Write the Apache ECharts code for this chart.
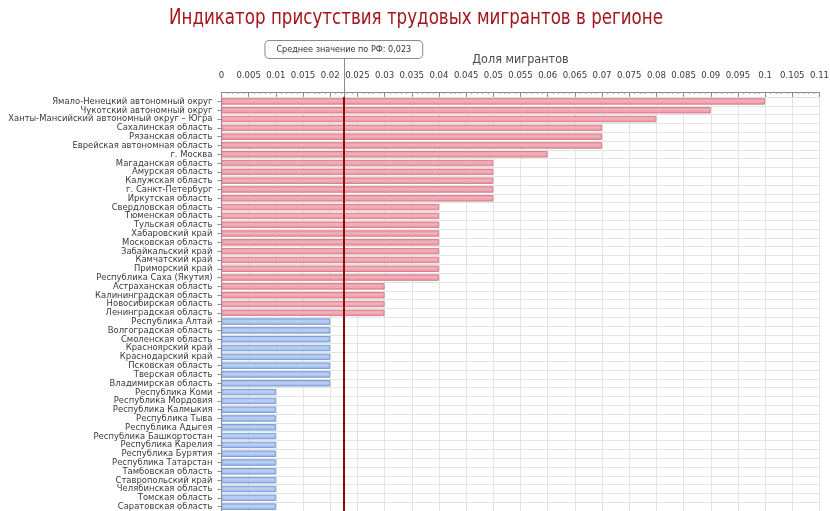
<!DOCTYPE html>
<html>
<head>
<meta charset="utf-8">
<script src="https://cdn.jsdelivr.net/npm/echarts@6/dist/echarts.min.js"></script>
<style>
html,body{margin:0;padding:0;background:#fff;overflow:hidden;}
#chart{width:830px;height:511px;}
</style>
</head>
<body>
<div id="chart"></div>
<script>
const titleText = 'Индикатор присутствия трудовых мигрантов в регионе';
const axisName = 'Доля мигрантов';
const regions = [
  'Ямало-Ненецкий автономный округ',
  'Чукотский автономный округ',
  'Ханты-Мансийский автономный округ – Югра',
  'Сахалинская область',
  'Рязанская область',
  'Еврейская автономная область',
  'г. Москва',
  'Магаданская область',
  'Амурская область',
  'Калужская область',
  'г. Санкт-Петербург',
  'Иркутская область',
  'Свердловская область',
  'Тюменская область',
  'Тульская область',
  'Хабаровский край',
  'Московская область',
  'Забайкальский край',
  'Камчатский край',
  'Приморский край',
  'Республика Саха (Якутия)',
  'Астраханская область',
  'Калининградская область',
  'Новосибирская область',
  'Ленинградская область',
  'Республика Алтай',
  'Волгоградская область',
  'Смоленская область',
  'Красноярский край',
  'Краснодарский край',
  'Псковская область',
  'Тверская область',
  'Владимирская область',
  'Республика Коми',
  'Республика Мордовия',
  'Республика Калмыкия',
  'Республика Тыва',
  'Республика Адыгея',
  'Республика Башкортостан',
  'Республика Карелия',
  'Республика Бурятия',
  'Республика Татарстан',
  'Тамбовская область',
  'Ставропольский край',
  'Челябинская область',
  'Томская область',
  'Саратовская область'
];
const shares = [
  0.10, 0.09, 0.08, 0.07, 0.07, 0.07, 0.06,
  0.05, 0.05, 0.05, 0.05, 0.05,
  0.04, 0.04, 0.04, 0.04, 0.04, 0.04, 0.04, 0.04, 0.04,
  0.03, 0.03, 0.03, 0.03,
  0.02, 0.02, 0.02, 0.02, 0.02, 0.02, 0.02, 0.02,
  0.01, 0.01, 0.01, 0.01, 0.01, 0.01, 0.01, 0.01, 0.01, 0.01, 0.01, 0.01, 0.01, 0.01
];
const meanValue = 0.0225;
const meanLabel = 'Среднее значение по РФ: 0,023';

const font = "'DejaVu Sans Condensed', 'DejaVu Sans', sans-serif";

function measure(text, f) {
  const c = document.createElement('canvas').getContext('2d');
  c.font = f;
  return c.measureText(text).width;
}
const titleFont = "22px 'DejaVu Sans Condensed'";
const titleW = measure(titleText, titleFont);
const titleScale = 494 / titleW;

const pinkGrad = new echarts.graphic.LinearGradient(0, 0, 0, 1, [
  {offset: 0, color: '#ec97a4'},
  {offset: 0.45, color: '#f3b2bb'},
  {offset: 1, color: '#e68c99'}
]);
const blueGrad = new echarts.graphic.LinearGradient(0, 0, 0, 1, [
  {offset: 0, color: '#a0bdee'},
  {offset: 0.45, color: '#bcd1f4'},
  {offset: 1, color: '#93b2e8'}
]);
const barData = shares.map(v => ({
  value: v,
  itemStyle: v > meanValue
    ? {color: pinkGrad, borderColor: '#d8808d', borderWidth: 1}
    : {color: blueGrad, borderColor: '#799cd4', borderWidth: 1}
}));

const chart = echarts.init(document.getElementById('chart'), null, {renderer: 'canvas'});

const option = {
  backgroundColor: '#ffffff',
  animation: false,
  graphic: [{
    type: 'text',
    x: 416,
    y: 18,
    scaleX: titleScale,
    scaleY: 1,
    style: {
      text: titleText,
      fill: '#a3161c',
      font: titleFont,
      align: 'center',
      verticalAlign: 'middle'
    }
  }],
  grid: {
    left: 221.5,
    right: 10.5,
    top: 97,
    bottom: 0,
    containLabel: false,
    outerBoundsMode: 'none'
  },
  xAxis: {
    type: 'value',
    position: 'top',
    offset: 5,
    min: 0,
    max: 0.11,
    interval: 0.005,
    name: axisName,
    nameLocation: 'middle',
    nameGap: 26,
    nameTextStyle: {color: '#4a4a4a', fontSize: 12.5, fontFamily: font},
    axisLine: {show: true, lineStyle: {color: '#8c8c8c'}},
    axisTick: {show: true, inside: true, length: 5, lineStyle: {color: '#8c8c8c'}},
    minorTick: {show: true, splitNumber: 5, length: 2, lineStyle: {color: '#a0a0a0'}},
    axisLabel: {color: '#3a3a3a', fontSize: 9.5, fontFamily: font, margin: 11},
    splitLine: {show: true, lineStyle: {color: '#e3e3e3', width: 1}}
  },
  yAxis: {
    type: 'category',
    inverse: true,
    data: regions,
    axisLine: {show: true, lineStyle: {color: '#8c8c8c'}},
    axisTick: {show: true, alignWithLabel: true, length: 4, lineStyle: {color: '#8c8c8c'}},
    axisLabel: {color: '#3a3a3a', fontSize: 9.4, fontFamily: font, margin: 9, interval: 0},
    splitLine: {show: true, lineStyle: {color: '#e3e3e3', width: 1}}
  },
  series: [{
    type: 'bar',
    data: barData,
    barWidth: 6.5,
    markLine: {
      silent: true,
      precision: 6,
      symbol: ['none', 'none'],
      animation: false,
      data: [
        {
          xAxis: meanValue,
          lineStyle: {color: '#8b0a0a', width: 2, type: 'solid'},
          label: {show: false}
        },
        [
          {xAxis: meanValue, y: 97},
          {
            xAxis: meanValue, y: 58,
            lineStyle: {color: '#8a8a8a', width: 1, type: 'solid'},
            label: {
              show: true,
              position: 'end',
              distance: 0,
              formatter: meanLabel,
              color: '#333',
              fontSize: 9,
              fontFamily: font,
              backgroundColor: '#ffffff',
              borderColor: '#8a8a8a',
              borderWidth: 1,
              borderRadius: 4,
              padding: [4, 11, 4, 11]
            }
          }
        ]
      ]
    }
  }]
};
chart.setOption(option);
</script>
</body>
</html>
